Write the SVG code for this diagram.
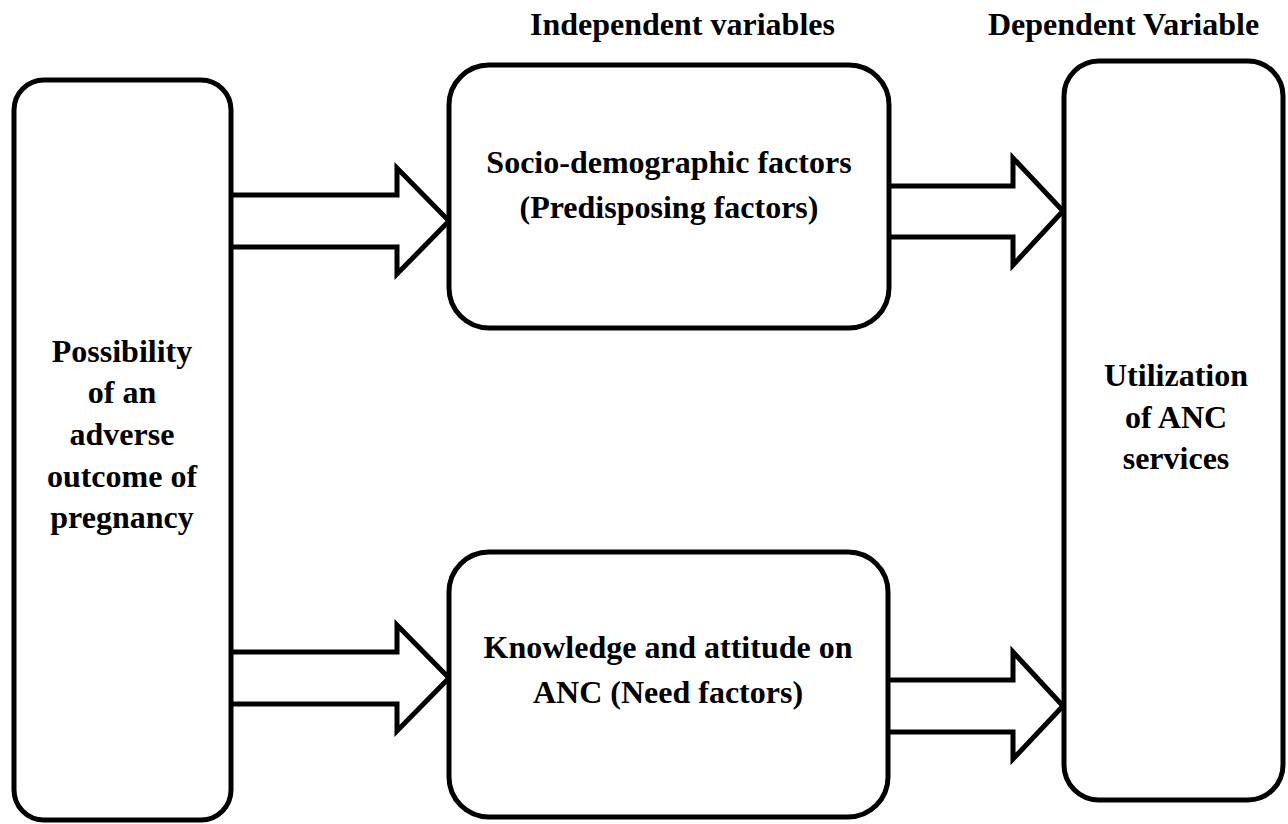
<svg xmlns="http://www.w3.org/2000/svg" width="1288" height="824" viewBox="0 0 1288 824">
<style>
.box{fill:#fff;stroke:#000;stroke-width:5}
.arr{fill:#fff;stroke:#000;stroke-width:5;stroke-linejoin:miter}
text{font-family:"Liberation Serif","Times New Roman",serif;font-weight:bold;font-size:32px;fill:#000}
.c{text-anchor:middle}
</style>
<rect width="1288" height="824" fill="#fff"/>
<text x="530" y="35">Independent variables</text>
<text x="988" y="35">Dependent Variable</text>
<g id="connectors">
<polyline class="arr" points="232,195 397,195 397,168 449,221 397,274 397,247 232,247"/>
<polyline class="arr" points="232,652 397,652 397,625 449,678 397,731 397,704 232,704"/>
<polyline class="arr" points="889,186 1013,186 1013,158 1063,211 1013,265 1013,237 889,237"/>
<polyline class="arr" points="889,680 1013,680 1013,652 1063,706 1013,759 1013,732 889,732"/>
</g>
<g id="node-left">
<rect class="box" x="14" y="80" width="217" height="740" rx="30"/>
<text class="c" x="122" y="362">Possibility</text>
<text class="c" x="122" y="403">of an</text>
<text class="c" x="122" y="445">adverse</text>
<text class="c" x="122" y="487">outcome of</text>
<text class="c" x="122" y="528">pregnancy</text>
</g>
<g id="node-socio">
<rect class="box" x="449" y="65" width="440" height="263" rx="40"/>
<text class="c" x="669" y="173">Socio-demographic factors</text>
<text class="c" x="669" y="218">(Predisposing factors)</text>
</g>
<g id="node-knowledge">
<rect class="box" x="449" y="552" width="439" height="265" rx="40"/>
<text class="c" x="668" y="658">Knowledge and attitude on</text>
<text class="c" x="668" y="703">ANC (Need factors)</text>
</g>
<g id="node-utilization">
<rect class="box" x="1064" y="61" width="219" height="739" rx="35"/>
<text class="c" x="1176" y="386">Utilization</text>
<text class="c" x="1176" y="428">of ANC</text>
<text class="c" x="1176" y="469">services</text>
</g>
</svg>
